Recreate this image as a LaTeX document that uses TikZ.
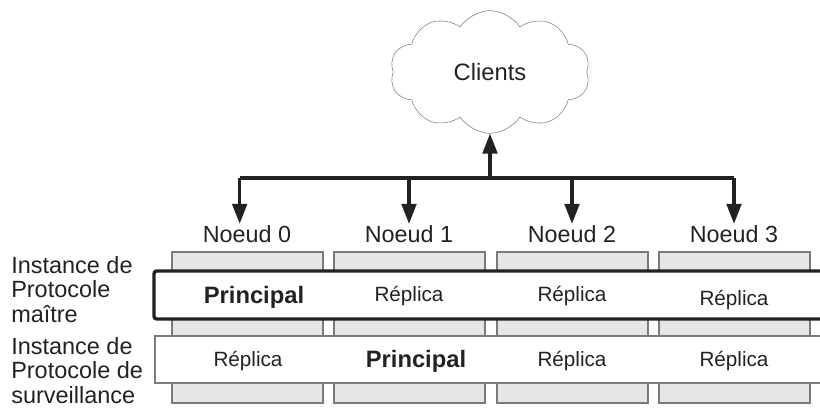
\documentclass[tikz,border=0pt]{standalone}
\usepackage{fontspec}
\setmainfont{Liberation Sans}
\usetikzlibrary{shapes.symbols,arrows.meta}

\definecolor{colfill}{HTML}{E6E6E6}
\definecolor{colline}{HTML}{7A7A7A}
\definecolor{txt}{HTML}{222222}

\tikzset{
  col/.style={draw=colline, fill=colfill, line width=0.8pt},
  bus/.style={line width=2.3pt, draw=txt},
  tip/.style={-{Triangle[length=15pt,width=11pt]}},
  lbl/.style={font=\fontsize{17.5}{20}\selectfont, text=txt, inner sep=1pt},
  rep/.style={font=\fontsize{15.5}{18}\selectfont, text=txt},
  pri/.style={font=\fontsize{17.8}{20}\selectfont\bfseries, text=txt},
  side/.style={font=\fontsize{17.6}{18.5}\selectfont, text=txt, align=left, inner sep=0pt}
}

\begin{document}
\begin{tikzpicture}[x=0.75pt, y=-0.75pt]

\useasboundingbox (0,0) rectangle (820,414);
\clip (0,0) rectangle (820,414);

% Noeuds (colonnes)
\foreach \i/\xl in {0/172,1/334,2/497,3/659}
{
\draw[col] (\xl,252) rectangle ++(151,151);
}

% Instance maitre
\draw[line width=2.5pt, draw=txt, fill=white, rounded corners=2pt] (154,271) rectangle (840,319);

% Instance de surveillance
\fill[white] (155,336) rectangle (840,383);
\draw[colline, line width=0.8pt] (840,336) -- (155,336) -- (155,383) -- (840,383);

% Clients
\node[cloud, draw=colline, cloud puffs=10, cloud puff arc=115, aspect=1.6,
      cloud ignores aspect, minimum width=150pt, minimum height=92pt,
      font=\fontsize{17.8}{20}\selectfont, text=txt] (cl) at (490,72) {Clients};

\node[lbl] (n0) at (247,234) {Noeud 0};
\node[lbl] (n1) at (409,234) {Noeud 1};
\node[lbl] (n2) at (572,234) {Noeud 2};
\node[lbl] (n3) at (734,234) {Noeud 3};

\node[pri] (m0) at (254,297) {Principal};
\node[rep] (m1) at (409,296) {Réplica};
\node[rep] (m2) at (572,296) {Réplica};
\node[rep] (m3) at (734,300) {Réplica};

\node[rep] (s0) at (248,361) {Réplica};
\node[pri] (s1) at (416,361) {Principal};
\node[rep] (s2) at (572,361) {Réplica};
\node[rep] (s3) at (734,361) {Réplica};

\node[side, anchor=north west] (im) at (11,256) {Instance de\\Protocole\\maître};
\node[side, anchor=north west] (is) at (11,337) {Instance de\\Protocole de\\surveillance};

% Bus
\coordinate (bus) at (490,178);
\draw[bus] ([xshift=-5.5pt]n0.north |- bus) -- (n3.north |- bus);
\draw[bus,tip] ([xshift=-5.5pt]n0.north |- bus) -- ([xshift=-5.5pt]n0.north);
\foreach \n in {n1,n2,n3}
{
\draw[bus,tip] (\n.north |- bus) -- (\n.north);
}
\draw[bus,tip] (bus) -- (cl.south);

\end{tikzpicture}
\end{document}
